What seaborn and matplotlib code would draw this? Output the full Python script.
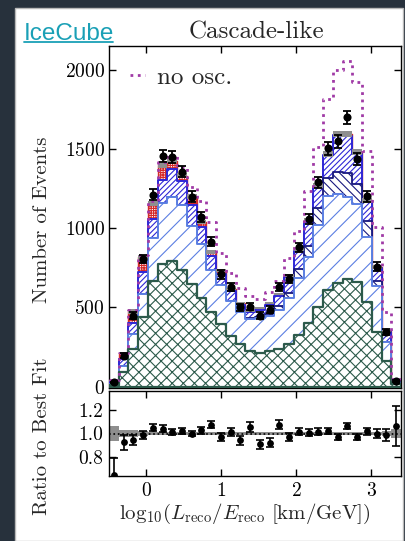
import numpy as np
import pandas as pd
import matplotlib
matplotlib.use("Agg")
import matplotlib.pyplot as plt
import seaborn as sns
from matplotlib.patches import Rectangle
from matplotlib.lines import Line2D

# ---------------- data ----------------
bin_edges = [-0.50, -0.37, -0.24, -0.11, 0.02, 0.15, 0.28, 0.41, 0.54, 0.67,
             0.80, 0.93, 1.06, 1.19, 1.32, 1.45, 1.58, 1.71, 1.84, 1.97,
             2.10, 2.23, 2.36, 2.49, 2.62, 2.75, 2.88, 3.01, 3.14, 3.27, 3.40]

# stacked components (events per bin), bottom -> top
green_xx = [12, 90, 235, 437, 670, 774, 795, 735, 650, 558, 469, 395, 322, 269, 227,
            216, 227, 240, 269, 325, 400, 500, 610, 655, 680, 660, 535, 345, 160, 18]
lightblue_fwd = [8, 42, 100, 150, 271, 388, 400, 411, 366, 340, 270, 245, 220, 200, 200,
                 215, 220, 245, 290, 360, 420, 520, 595, 561, 515, 493, 407, 292, 120, 10]
navy_back = [0, 0, 0, 0, 0, 0, 0, 0, 0, 0, 0, 0, 0, 0, 5,
             8, 15, 25, 35, 55, 70, 110, 115, 136, 152, 126, 105, 32, 5, 0]
blue_dense = [10, 43, 70, 140, 115, 140, 177, 150, 130, 110, 85, 72, 60, 45, 38,
              45, 56, 65, 96, 117, 150, 130, 140, 234, 237, 191, 120, 80, 58, 6]
red_grid = [12, 37, 70, 90, 100, 95, 55, 35, 54, 33, 26, 19, 16, 12, 10,
            10, 10, 10, 10, 10, 12, 11, 10, 10, 10, 10, 10, 8, 7, 2]

no_osc = [42, 215, 485, 830, 1175, 1420, 1460, 1385, 1260, 1170, 1040, 845, 720, 620, 570,
          555, 595, 670, 815, 985, 1235, 1510, 1815, 2000, 2057, 1925, 1490, 1005, 470, 50]

data_counts = [27, 196, 448, 806, 1211, 1457, 1447, 1358, 1200, 1072, 915, 709, 627, 500, 505,
               448, 487, 629, 679, 879, 1058, 1289, 1504, 1548, 1699, 1436, 1201, 757, 347, 38]
data_err = [6, 14, 21, 28, 35, 38, 38, 37, 35, 33, 30, 27, 25, 22, 22,
            21, 22, 25, 26, 30, 33, 36, 39, 39, 44, 38, 35, 28, 19, 7]

ratio = [0.643, 0.926, 0.946, 0.986, 1.048, 1.041, 1.011, 1.02, 1.0, 1.03, 1.076, 0.968, 1.014, 0.94, 1.058,
         0.906, 0.922, 1.076, 0.97, 1.014, 1.006, 1.014, 1.021, 0.97, 1.066, 0.97, 1.02, 1.0, 0.988, 1.066]
ratio_err = [0.15, 0.065, 0.045, 0.035, 0.03, 0.03, 0.025, 0.025, 0.025, 0.03, 0.03, 0.035, 0.035, 0.04, 0.045,
             0.04, 0.04, 0.04, 0.035, 0.03, 0.03, 0.03, 0.025, 0.025, 0.025, 0.025, 0.03, 0.035, 0.05, 0.17]
band = [0.065, 0.032, 0.03, 0.02, 0.015, 0.012, 0.012, 0.012, 0.012, 0.012, 0.012, 0.012, 0.012, 0.013, 0.013,
        0.013, 0.013, 0.013, 0.013, 0.012, 0.012, 0.012, 0.012, 0.012, 0.012, 0.012, 0.013, 0.015, 0.02, 0.035]

x_ticks = [0, 1, 2, 3]
y_ticks = [0, 500, 1000, 1500, 2000]
ratio_ticks = [0.8, 1.0, 1.2]

# ---------------- style ----------------
sns.set_theme(style="ticks")
plt.rcParams.update({
    "font.family": ["cmr10", "DejaVu Serif"],
    "mathtext.fontset": "cm",
    "axes.formatter.use_mathtext": True,
    "axes.edgecolor": "black",
    "axes.linewidth": 1.0,
    "hatch.linewidth": 0.8,
    "xtick.color": "black",
    "ytick.color": "black",
})

edges = np.array(bin_edges)
centers = 0.5 * (edges[:-1] + edges[1:])
comps = np.array([green_xx, lightblue_fwd, navy_back, blue_dense, red_grid], dtype=float)
cum = np.cumsum(comps, axis=0)
total = cum[-1]
band = np.array(band)

W, H = 405, 541
fig = plt.figure(figsize=(W / 100, H / 100), dpi=100, facecolor="#27313c")
fig.patches.append(Rectangle((15 / W, 0), (403 - 15) / W, 1 - 8 / H, transform=fig.transFigure,
                             facecolor="white", edgecolor="#b8b8b8", lw=1.0, zorder=-5))

ax = fig.add_axes([109 / W, 1 - 388 / H, 292 / W, 342 / H])
rax = fig.add_axes([109 / W, 1 - 476 / H, 292 / W, 85 / H])

# stacked layers: draw cumulative tops from top layer down, each filled white with hatching
styles = [
    (cum[4], "#d42a2a", "+" * 7, 1.0),
    (cum[3], "#2e26d6", "/" * 6, 1.4),
    (cum[2], "#18187e", "\\" * 4, 1.3),
    (cum[1], "#5b7fe2", "//", 1.4),
    (cum[0], "#2c5a4b", "xxx", 1.6),
]
for i, (top, col, hatch, lw) in enumerate(styles):
    layer = pd.DataFrame({"x": centers, "w": top})
    sns.histplot(data=layer, x="x", weights="w", bins=list(bin_edges), element="step", fill=True,
                 facecolor="white", edgecolor=col, hatch=hatch, linewidth=lw,
                 ax=ax, zorder=2 + i)

# best-fit uncertainty band
ax.stairs(total * (1 + band), edges, baseline=total * (1 - band), fill=True,
          color="#8e8e8e", lw=0, zorder=9)

# no oscillation
nodf = pd.DataFrame({"x": centers, "w": no_osc})
sns.histplot(data=nodf, x="x", weights="w", bins=list(bin_edges), element="step", fill=False,
             color="#a03aa6", linestyle=":", linewidth=2.0, ax=ax, zorder=10)

# data
ax.errorbar(centers, data_counts, yerr=data_err, fmt="none", ecolor="black",
            elinewidth=1.3, capsize=3, capthick=1.3, zorder=11)
sns.scatterplot(x=centers, y=data_counts, color="black", s=34, edgecolor="black",
                linewidth=0, ax=ax, zorder=12)

ax.set_xlim(edges[0], edges[-1])
ax.set_ylim(-8, 2150)
ax.set_xticks(x_ticks)
ax.set_yticks(y_ticks)
ax.set_xlabel("")
ax.set_ylabel("")
ax.tick_params(direction="in", top=True, right=True, length=5, width=1,
               labelsize=14, labelbottom=False, pad=3)

ax.legend(handles=[Line2D([], [], color="#a03aa6", ls=":", lw=2.0)], labels=["no osc."],
          loc="upper left", bbox_to_anchor=(0.02, 0.985), frameon=False, fontsize=18,
          handlelength=0.6, handletextpad=0.5, borderaxespad=0.2)

# ratio panel
rax.stairs(1 + band, edges, baseline=1 - band, fill=True, color="#8e8e8e", lw=0, zorder=1)
rax.axhline(1.0, color="black", ls=":", lw=1.2, zorder=2)
rax.errorbar(centers, ratio, yerr=ratio_err, fmt="none", ecolor="black",
             elinewidth=1.2, capsize=3, capthick=1.2, zorder=3)
sns.scatterplot(x=centers, y=ratio, color="black", s=24, edgecolor="black",
                linewidth=0, ax=rax, zorder=4)
rax.set_xlim(edges[0], edges[-1])
rax.set_ylim(0.635, 1.365)
rax.set_xticks(x_ticks)
rax.set_yticks(ratio_ticks)
rax.set_yticklabels(["%.1f" % v for v in ratio_ticks])
rax.set_xlabel("")
rax.set_ylabel("")
rax.tick_params(direction="in", top=True, right=True, length=5, width=1,
                labelsize=14, pad=4)

for a in (ax, rax):
    for s in a.spines.values():
        s.set_visible(True)
        s.set_color("black")
        s.set_linewidth(1.0)

# texts
fig.text(24 / W, 1 - 39.5 / H, "IceCube", color="#1aa0b6", fontsize=17.5,
         family="Liberation Sans", va="baseline", ha="left")
fig.add_artist(Line2D([24 / W, 113 / W], [1 - 42 / H, 1 - 42 / H], color="#1aa0b6",
                      lw=1.3, transform=fig.transFigure))
fig.text(256.5 / W, 1 - 38.5 / H, "Cascade-like", fontsize=18, ha="center", va="baseline")
fig.text(42 / W, 1 - 220 / H, "Number of Events", rotation=90, fontsize=15,
         ha="center", va="center")
fig.text(42 / W, 1 - 436 / H, "Ratio to Best Fit", rotation=90, fontsize=15,
         ha="center", va="center")
fig.text(245 / W, 1 - 514 / H, r"$\mathrm{log}_{10}(L_{\rm reco}/E_{\rm reco}\ [{\rm km/GeV}])$",
         fontsize=15, ha="center", va="center")

fig.savefig("out.png", dpi=100, facecolor=fig.get_facecolor())
